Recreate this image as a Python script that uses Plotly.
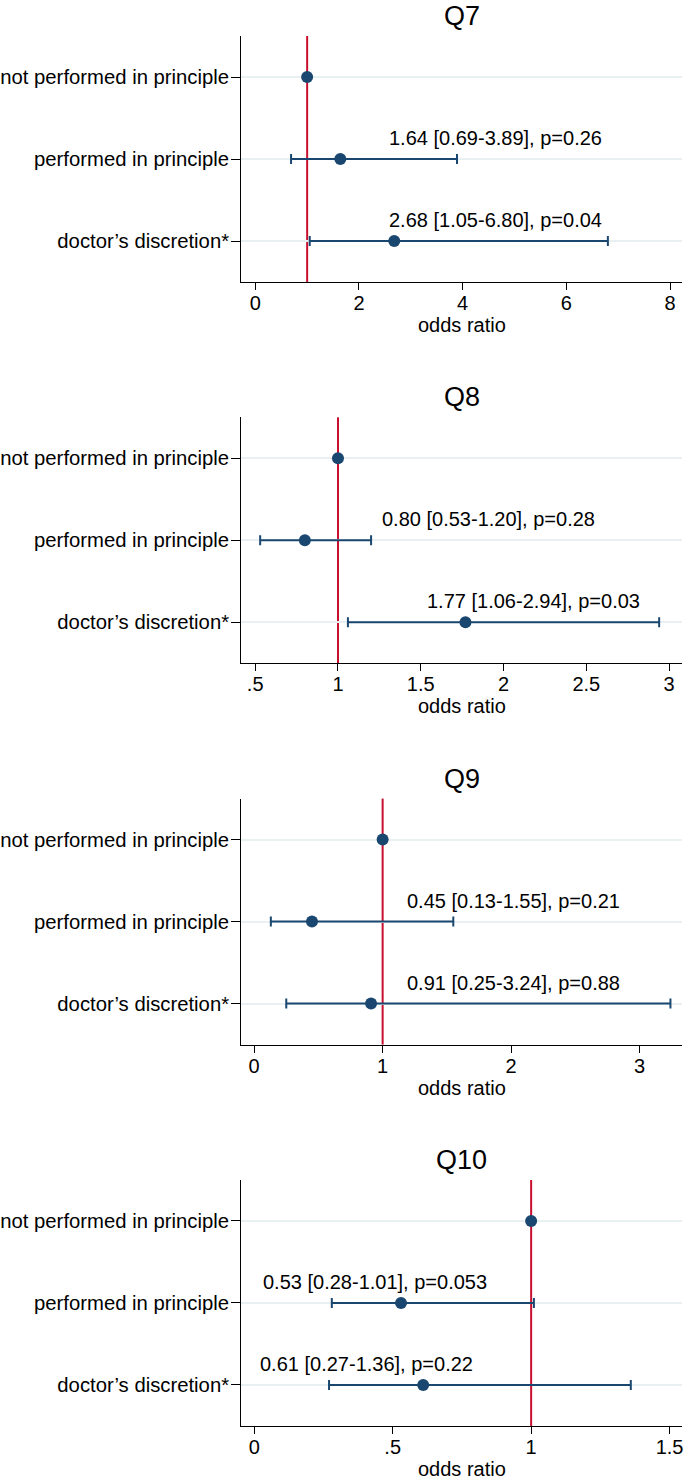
import plotly.graph_objects as go

# ---------------- data ----------------
categories = ["not performed in principle", "performed in principle", "doctor’s discretion*"]
panel_titles = ["Q7", "Q8", "Q9", "Q10"]

q7_or = [1.00, 1.64, 2.68]
q7_lo = [None, 0.69, 1.05]
q7_hi = [None, 3.89, 6.80]
q7_p = [None, "0.26", "0.04"]

q8_or = [1.00, 0.80, 1.77]
q8_lo = [None, 0.53, 1.06]
q8_hi = [None, 1.20, 2.94]
q8_p = [None, "0.28", "0.03"]

q9_or = [1.00, 0.45, 0.91]
q9_lo = [None, 0.13, 0.25]
q9_hi = [None, 1.55, 3.24]
q9_p = [None, "0.21", "0.88"]

q10_or = [1.00, 0.53, 0.61]
q10_lo = [None, 0.28, 0.27]
q10_hi = [None, 1.01, 1.36]
q10_p = [None, "0.053", "0.22"]

q7_ticks = [0, 2, 4, 6, 8]
q7_ticklabels = ["0", "2", "4", "6", "8"]
q8_ticks = [0.5, 1, 1.5, 2, 2.5, 3]
q8_ticklabels = [".5", "1", "1.5", "2", "2.5", "3"]
q9_ticks = [0, 1, 2, 3]
q9_ticklabels = ["0", "1", "2", "3"]
q10_ticks = [0, 0.5, 1, 1.5]
q10_ticklabels = ["0", ".5", "1", "1.5"]

reference_value = 1
x_title = "odds ratio"

# ---------------- layout / style ----------------
W, H = 685, 1481
FONT = "Liberation Sans, Arial, Helvetica, sans-serif"
NAVY = "#1a476f"
RED = "#c8102e"
GRID = "#e8f0f2"

x_ranges = [[-0.27, 8.23], [0.416, 3.078], [-0.10, 3.33], [-0.047, 1.545]]
label_x = [[None, 0.330, 0.330], [None, 0.314, 0.416], [None, 0.371, 0.371], [None, 0.045, 0.038]]

panels = [
    (q7_or, q7_lo, q7_hi, q7_p, q7_ticks, q7_ticklabels),
    (q8_or, q8_lo, q8_hi, q8_p, q8_ticks, q8_ticklabels),
    (q9_or, q9_lo, q9_hi, q9_p, q9_ticks, q9_ticklabels),
    (q10_or, q10_lo, q10_hi, q10_p, q10_ticks, q10_ticklabels),
]

PLOT_L, PLOT_R = 241, 683
PITCH = 381.3
TOP0, BOT0 = 36, 282

fig = go.Figure()
layout = dict(
    width=W, height=H,
    margin=dict(l=0, r=0, t=0, b=0),
    paper_bgcolor="white", plot_bgcolor="white",
    showlegend=False,
    font=dict(family=FONT, size=20, color="black"),
)
annotations = []
shapes = []
cat_order = categories[::-1]  # bottom-to-top order

for i, (ors, los, his, ps, tv, tt) in enumerate(panels):
    n = i + 1
    xa = "x" if n == 1 else f"x{n}"
    ya = "y" if n == 1 else f"y{n}"
    top = TOP0 + PITCH * i
    bot = BOT0 + PITCH * i
    ydom = [1 - bot / H, 1 - top / H]
    xdom = [PLOT_L / W, PLOT_R / W]

    ref_idx = [k for k in range(3) if los[k] is None]
    est_idx = [k for k in range(3) if los[k] is not None]

    fig.add_trace(go.Scatter(
        x=[ors[k] for k in ref_idx], y=[categories[k] for k in ref_idx],
        mode="markers", marker=dict(color=NAVY, size=12),
        xaxis=xa, yaxis=ya, hoverinfo="skip"))
    fig.add_trace(go.Scatter(
        x=[ors[k] for k in est_idx], y=[categories[k] for k in est_idx],
        mode="markers", marker=dict(color=NAVY, size=12),
        error_x=dict(type="data", symmetric=False,
                     array=[his[k] - ors[k] for k in est_idx],
                     arrayminus=[ors[k] - los[k] for k in est_idx],
                     color=NAVY, thickness=2, width=5),
        xaxis=xa, yaxis=ya, hoverinfo="skip"))

    layout["xaxis" if n == 1 else f"xaxis{n}"] = dict(
        domain=xdom, anchor=ya, range=x_ranges[i],
        tickmode="array", tickvals=tv, ticktext=tt,
        showgrid=False, zeroline=False,
        showline=True, linecolor="black", linewidth=1.3,
        ticks="outside", ticklen=7, tickwidth=1.3, tickcolor="black",
        ticklabelstandoff=-4,
        tickfont=dict(size=20, family=FONT, color="black"),
    )
    layout["yaxis" if n == 1 else f"yaxis{n}"] = dict(
        domain=ydom, anchor=xa, type="category",
        categoryorder="array", categoryarray=cat_order,
        range=[-0.5, 2.5],
        showgrid=True, gridcolor=GRID, gridwidth=2, zeroline=False,
        showline=True, linecolor="black", linewidth=1.3,
        ticks="outside", ticklen=9, tickwidth=1.3, tickcolor="black",
        ticklabelstandoff=-2,
        tickfont=dict(size=20.3, family=FONT, color="black"),
    )

    # reference line at OR = 1
    shapes.append(dict(type="line", xref=xa, yref="paper",
                       x0=reference_value, x1=reference_value,
                       y0=ydom[0], y1=ydom[1],
                       line=dict(color=RED, width=2), layer="below"))

    # panel title
    annotations.append(dict(text=panel_titles[i], xref="paper", yref="paper",
                            x=(PLOT_L + PLOT_R) / 2 / W, y=1 - (16 + PITCH * i) / H,
                            xanchor="center", yanchor="middle", showarrow=False,
                            font=dict(size=27, family=FONT, color="black")))
    # x-axis title
    annotations.append(dict(text=x_title, xref="paper", yref="paper",
                            x=(PLOT_L + PLOT_R) / 2 / W, y=1 - (325 + PITCH * i) / H,
                            xanchor="center", yanchor="middle", showarrow=False,
                            font=dict(size=20, family=FONT, color="black")))
    # estimate labels
    for k in est_idx:
        txt = f"{ors[k]:.2f} [{los[k]:.2f}-{his[k]:.2f}], p={ps[k]}"
        annotations.append(dict(text=txt, xref=f"{xa} domain", yref=ya,
                                x=label_x[i][k], y=cat_order.index(categories[k]),
                                xanchor="left", yanchor="middle", yshift=21,
                                showarrow=False,
                                font=dict(size=20, family=FONT, color="black")))

layout["annotations"] = annotations
layout["shapes"] = shapes
fig.update_layout(**layout)
fig.write_html("out.html",
               config={"displayModeBar": False},
               post_script="document.body.style.margin='0';document.body.style.overflow='hidden';")
